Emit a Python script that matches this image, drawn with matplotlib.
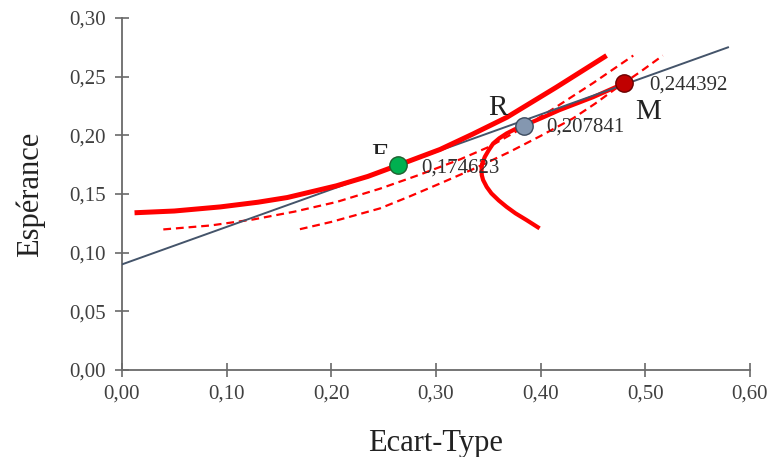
import matplotlib
matplotlib.use("Agg")
import matplotlib.pyplot as plt
from matplotlib.ticker import FuncFormatter, MultipleLocator
from matplotlib.transforms import Bbox, TransformedBbox

# efficient frontier (thick red, upper curve)
front_x = [0.012, 0.05, 0.094, 0.13, 0.158, 0.205, 0.235, 0.264, 0.304, 0.335, 0.368, 0.415, 0.463]
front_y = [0.134, 0.1355, 0.139, 0.143, 0.147, 0.157, 0.165, 0.1746, 0.188, 0.201, 0.2155, 0.241, 0.268]

# second frontier (thick red, hyperbola ending at M)
hyp_x = [0.399, 0.3865, 0.376, 0.3675, 0.36, 0.353, 0.3485, 0.345, 0.3438, 0.3435, 0.344,
         0.3467, 0.3505, 0.3546, 0.3605, 0.3675, 0.375, 0.383, 0.40, 0.418, 0.45, 0.48]
hyp_y = [0.1207, 0.1278, 0.1335, 0.139, 0.1445, 0.1505, 0.156, 0.162, 0.166, 0.170, 0.1755,
         0.1817, 0.1875, 0.193, 0.1975, 0.2016, 0.205, 0.208, 0.2144, 0.2215, 0.2325, 0.2444]

# dashed curves
dash1_x = [0.0395, 0.085, 0.1254, 0.165, 0.205, 0.2464, 0.2846, 0.323, 0.3515, 0.385, 0.415, 0.45, 0.4885]
dash1_y = [0.1198, 0.1232, 0.1283, 0.135, 0.1432, 0.1545, 0.1665, 0.1795, 0.1905, 0.2075, 0.2243, 0.2445, 0.268]
dash2_x = [0.170, 0.20, 0.2464, 0.275, 0.304, 0.3375, 0.3706, 0.40, 0.431, 0.452, 0.472, 0.495, 0.5167]
dash2_y = [0.120, 0.1262, 0.1377, 0.148, 0.159, 0.172, 0.186, 0.1995, 0.2145, 0.227, 0.240, 0.254, 0.268]

# capital market line
cml_x = [0.0, 0.579]
cml_y = [0.090, 0.275]

# portfolios
pt_names = ["E", "R", "M"]
pt_x = [0.264, 0.384, 0.480]
pt_y = [0.174623, 0.207841, 0.244392]
pt_labels = ["0,174623", "0,207841", "0,244392"]
pt_colors = ["#00B050", "#8497B0", "#C00000"]
pt_edges = ["#1f5f2f", "#3b4a5e", "#6b0000"]

serif = "Liberation Serif"
grey_txt = "#404040"

fig = plt.figure(figsize=(7.7, 4.57), dpi=100)
ax = fig.add_axes([0.1584, 0.1904, 0.8156, 0.7702])

ax.plot(hyp_x, hyp_y, color="#FF0000", lw=3.0, solid_capstyle="butt",
        solid_joinstyle="round", zorder=2)
ax.plot(dash1_x, dash1_y, color="#FF0000", lw=1.6, ls=(0, (3.5, 2.2)), zorder=2)
ax.plot(dash2_x, dash2_y, color="#FF0000", lw=1.6, ls=(0, (3.5, 2.2)), zorder=2)
ax.plot(cml_x, cml_y, color="#44546A", lw=1.4, zorder=3)
ax.plot(front_x, front_y, color="#FF0000", lw=3.6, solid_capstyle="butt",
        solid_joinstyle="round", zorder=4)

for x, y, c, ec in zip(pt_x, pt_y, pt_colors, pt_edges):
    ax.plot(x, y, "o", ms=12.5, mfc=c, mec=ec, mew=1.0, zorder=5)

# value labels
val_pos = [(0.286, 0.172), (0.4055, 0.2073), (0.504, 0.2428)]
for (x, y), lab in zip(val_pos, pt_labels):
    ax.text(x, y, lab, fontsize=15, family=serif, color="#303030",
            ha="left", va="center", zorder=6)

# letter labels
name_pos = [(0.2464, 0.182), (0.359, 0.2236), (0.503, 0.2202)]
for (x, y), name in zip(name_pos, pt_names):
    t = ax.text(x, y, name, fontsize=21, family=serif, color="#222222",
                ha="center", va="center", zorder=6)
    if name == "E":
        # only the top of the E shows in the original
        t.set_clip_box(TransformedBbox(Bbox([[0.2, 0.184], [0.3, 0.3]]), ax.transData))
        t.set_clip_on(True)

ax.set_xlim(0, 0.6)
ax.set_ylim(0, 0.30)
ax.xaxis.set_major_locator(MultipleLocator(0.1))
ax.yaxis.set_major_locator(MultipleLocator(0.05))
fmt = FuncFormatter(lambda v, p: f"{v:.2f}".replace(".", ","))
ax.xaxis.set_major_formatter(fmt)
ax.yaxis.set_major_formatter(fmt)

for s in ["top", "right"]:
    ax.spines[s].set_visible(False)
for s in ["left", "bottom"]:
    ax.spines[s].set_color("#6a6a6a")
    ax.spines[s].set_linewidth(1.3)
    ax.spines[s].set_clip_on(False)

ax.tick_params(axis="both", direction="inout", length=9.4, width=1.2,
               color="#6a6a6a", labelcolor=grey_txt, labelsize=15)
ax.tick_params(axis="x", pad=6)
ax.tick_params(axis="y", pad=7)
for lab in ax.get_xticklabels() + ax.get_yticklabels():
    lab.set_family(serif)

ax.set_xlabel("Ecart-Type", fontsize=22, family=serif, color="#222222", labelpad=18)
ax.set_ylabel("Espérance", fontsize=22, family=serif, color="#222222", labelpad=17)

fig.savefig("out.png", dpi=100)
